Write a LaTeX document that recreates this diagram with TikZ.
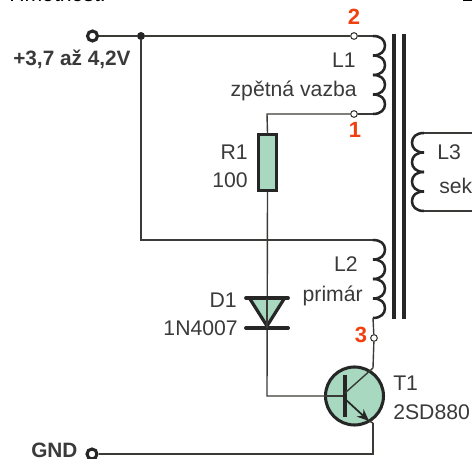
\documentclass[tikz,border=0pt]{standalone}
\usepackage{fontspec}
\setmainfont{Liberation Sans}
\usetikzlibrary{arrows.meta}
\definecolor{wire}{HTML}{3A3A36}
\definecolor{fillg}{HTML}{A8D8C0}
\definecolor{redl}{HTML}{F04010}
\definecolor{txt}{HTML}{3A3A3A}
\tikzset{
  x=0.75pt,y=-0.75pt,
  thinw/.style={draw=wire,line width=1.05pt},
  midw/.style={draw=wire,line width=1.4pt},
  heavy/.style={draw=black!85,line width=2.6pt},
  coilw/.style={draw=black!85,line width=1.9pt},
  lab/.style={font=\fontsize{15.9}{18}\selectfont,text=txt,inner sep=0pt},
  blab/.style={font=\fontsize{15.6}{18}\selectfont\bfseries,text=txt,inner sep=0pt},
  rlab/.style={font=\fontsize{16.5}{18}\selectfont\bfseries,text=redl,inner sep=0pt},
  smallc/.style={circle,draw=wire,fill=white,line width=0.8pt,minimum size=5pt,inner sep=0pt},
  bigc/.style={circle,draw=black!85,fill=white,line width=2.3pt,minimum size=7.5pt,inner sep=0pt},
  junc/.style={circle,fill=black!85,minimum size=6pt,inner sep=0pt}
}
\begin{document}
\begin{tikzpicture}
\useasboundingbox (0,0) rectangle (472,459);
\clip (0,0) rectangle (472,459);
% named points
\coordinate (c1t) at (373,36);
\coordinate (c1b) at (373,114);
\coordinate (c2t) at (373,240);
\coordinate (c2b) at (373,318);
\coordinate (c3t) at (424,133);
\coordinate (c3b) at (424,211);
\coordinate (rt) at (472,133);
\coordinate (rb) at (472,211);
\coordinate (baseend) at (345,396);
\coordinate (cc) at (345,393);
\coordinate (ce) at (345,399);
\coordinate (coll) at (373,368);
\coordinate (emit) at (373,423);
% wires
\node[bigc] (vcc) at (92.5,36) {};
\node[bigc] (gnd) at (92,454) {};
\node[junc] (j) at (141,36) {};
\node[smallc] (p2) at (354,36) {};
\node[smallc] (p1) at (354,114) {};
\node[smallc] (p3) at (374,338) {};
\draw[midw] (vcc) -- (j) -- (p2);
\draw[thinw] (p2) -- (c1t);
\draw[thinw] (p1) -- (c1b);
\draw[midw] (j) -- (141,240) -- (c2t);
% resistor
\node[draw=black!85,fill=fillg,line width=2.2pt,minimum width=13.5pt,minimum height=42pt,inner sep=0pt] (r1) at (267.5,162.5) {};
\draw[thinw] (p1) -- (267,114) -- (r1.north);
% coils
\foreach \y in {36,55.5,75,94.5,240,259.5,279,298.5}{
  \draw[coilw] (373,\y) .. controls (381,\y) and (385,\y+4) .. (385,\y+9.75) .. controls (385,\y+15) and (381,\y+19.5) .. (373,\y+19.5);
}
\foreach \y in {133,152.5,172,191.5}{
  \draw[coilw] (424,\y) .. controls (416,\y) and (412,\y+4) .. (412,\y+9.75) .. controls (412,\y+15) and (416,\y+19.5) .. (424,\y+19.5);
}
\draw[thinw] (c3t) -- (rt);
\draw[thinw] (c3b) -- (rb);
% core
\draw[heavy] (394,34) -- (394,319);
\draw[heavy] (404,34) -- (404,319);
% diode and base line
\draw[thinw] (r1.south) -- (267,396) -- (baseend);
\fill[fillg] (249,299) -- (285,299) -- (267,327) -- cycle;
\draw[draw=black!85,line width=2.4pt] (250,299) -- (267,326) -- (284,299);
\draw[draw=black!85,line width=2.8pt,line cap=round] (246,298) -- (288,298);
\draw[draw=black!85,line width=3pt,line cap=round] (246,328) -- (288,328);
\draw[thinw] (267,299) -- (267,328);
% transistor
\node[circle,draw=black!85,fill=fillg,line width=2.3pt,minimum size=43.5pt,inner sep=0pt] (t1) at (354.5,396) {};
\draw[thinw] (t1.west) -- (baseend);
\draw[draw=black!85,line width=2.8pt] (345,375) -- (345,417);
\draw[thinw] (cc) -- (coll);
\draw[draw=black!85,line width=1.3pt,-{Stealth[length=9pt,width=7.5pt]}] (ce) -- (369,421);
\draw[thinw] (369,421) -- (emit);
\draw[thinw] (c2b) -- (p3) -- (coll);
\draw[midw] (emit) -- (373,454) -- (gnd);
% labels
\node[lab,anchor=base west,text=black] at (9,2) {Hmotnost:};
\fill[black] (463,0) rectangle (472,1.5);
\node[blab,anchor=base west] (vl) at (13,66) {+3,7 až 4,2V};
\node[lab,anchor=base east] at (356,68) {L1};
\node[lab,anchor=base east] at (357,97) {zpětná vazba};
\node[rlab,anchor=base] at (354,25) {2};
\node[rlab,anchor=base] at (355,138) {1};
\node[rlab,anchor=base] at (361,343) {3};
\node[lab,anchor=base east] at (248,160) {R1};
\node[lab,anchor=base east] at (248,188) {100};
\node[lab,anchor=base west] at (437,160) {L3};
\node[lab,anchor=base west] at (439,194) {sek};
\node[lab,anchor=base east] at (358,272) {L2};
\node[lab,anchor=base east] at (363,302) {primár};
\node[lab,anchor=base east] at (237,308) {D1};
\node[lab,anchor=base east] at (238,336) {1N4007};
\node[lab,anchor=base west] at (393,391) {T1};
\node[lab,anchor=base west] at (393,420) {2SD880};
\node[blab,anchor=base west] at (31,458) {GND};
\end{tikzpicture}
\end{document}
